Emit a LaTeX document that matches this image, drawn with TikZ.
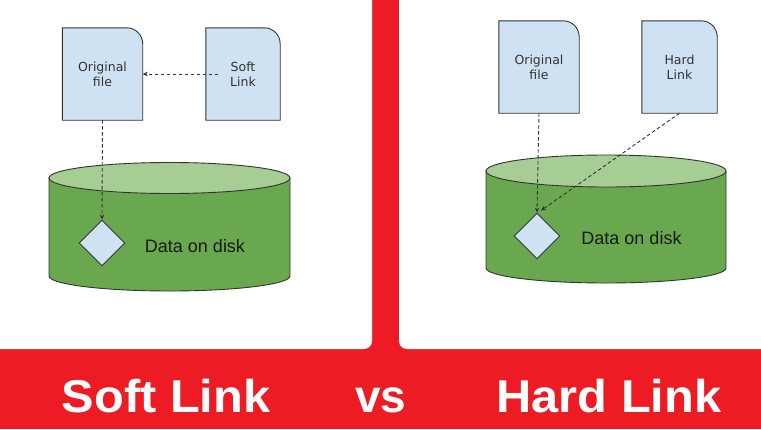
\documentclass[tikz,border=0pt]{standalone}
\usepackage{fontspec}
\setmainfont{Liberation Sans}
\newfontfamily\boxfont{DejaVu Sans}
\usetikzlibrary{shapes.geometric,arrows.meta}
\pgfdeclarelayer{back}
\pgfdeclarelayer{mid}
\pgfsetlayers{back,mid,main}
\definecolor{linkred}{HTML}{ED1C24}
\definecolor{boxblue}{HTML}{CFE2F3}
\definecolor{diskgreen}{HTML}{6AA84F}
\definecolor{disklight}{HTML}{A6CD94}
\definecolor{edgegray}{HTML}{333333}
\tikzset{
  filetext/.style={font=\boxfont\fontsize{12.5}{15}\selectfont, align=center, text=edgegray,
    minimum height=92pt, inner sep=0pt},
  filebox/.style={draw=edgegray, fill=boxblue, line width=0.9pt},
  datadiamond/.style={diamond, draw=edgegray, fill=boxblue, line width=0.9pt,
    minimum width=46pt, minimum height=46pt, inner sep=0pt},
  diskbody/.style={draw=edgegray, fill=diskgreen, line width=0.9pt},
  disktop/.style={draw=edgegray, fill=disklight, line width=0.9pt},
  disklabel/.style={font=\fontsize{18}{20}\selectfont, text=black!90},
  linkarrow/.style={draw=edgegray, line width=0.9pt, dash pattern=on 3.5pt off 2.5pt,
    -{Stealth[length=5pt,width=4.5pt]}},
  titletext/.style={font=\bfseries\fontsize{46}{50}\selectfont, text=white, anchor=base}
}
\begin{document}
\begin{tikzpicture}[x=1pt,y=-1pt]
\useasboundingbox (0,0) rectangle (761,429);
% background panels
\begin{pgfonlayer}{back}
\fill[linkred] (0,0) rectangle (761,429);
\fill[white] (0,0) -- (372,0) -- (372,341) arc[start angle=0,end angle=-90,radius=8pt] -- (0,349) -- cycle;
\fill[white] (761,0) -- (399,0) -- (399,341) arc[start angle=180,end angle=270,radius=8pt] -- (761,349) -- cycle;
\end{pgfonlayer}

% file nodes
\node[filetext, minimum width=80pt] (o1) at (102.5,74) {Original\\file};
\node[filetext, minimum width=74pt] (s1) at (243,74) {Soft\\Link};
\node[filetext, minimum width=80pt] (o2) at (539,67) {Original\\file};
\node[filetext, minimum width=75pt] (h2) at (679.5,67) {Hard\\Link};
\begin{pgfonlayer}{mid}
\foreach \n in {o1,s1,o2,h2}{
  \draw[filebox] (\n.south west) -- (\n.north west) -- ([xshift=-16pt]\n.north east)
    arc[start angle=90,end angle=0,radius=16pt] -- (\n.south east) -- cycle;
}
\end{pgfonlayer}

% left disk
\filldraw[diskbody] (49,178) -- (49,276) arc[start angle=180,end angle=360,x radius=120.5pt,y radius=15pt] -- (290,178) -- cycle;
\filldraw[disktop] (169.5,178) ellipse[x radius=120.5pt,y radius=15.5pt];
\node[datadiamond] (d1) at (102,243) {};
\node[disklabel] (t1) at (195,246) {Data on disk};

% right disk
\filldraw[diskbody] (486,171) -- (486,268) arc[start angle=180,end angle=360,x radius=120pt,y radius=15pt] -- (726,171) -- cycle;
\filldraw[disktop] (606,171) ellipse[x radius=120pt,y radius=16pt];
\node[datadiamond] (d2) at (537,236) {};
\node[disklabel] (t2) at (631.5,238) {Data on disk};

% connectors
\coordinate (sl) at (218,74);
\draw[linkarrow] (sl) -- (o1.east);
\draw[linkarrow] (o1.south) -- (d1.north);
\draw[linkarrow] (o2.south) -- (d2.north);
\draw[linkarrow] (h2.south) -- ([xshift=4pt,yshift=2pt]d2.north);

% titles
\node[titletext] (soft) at (166,412) {\scalebox{1.06}[1]{Soft Link}};
\node[titletext] (vs) at (381,412) {vs};
\node[titletext] (hard) at (609,412) {\scalebox{1.06}[1]{Hard Link}};
\end{tikzpicture}
\end{document}
